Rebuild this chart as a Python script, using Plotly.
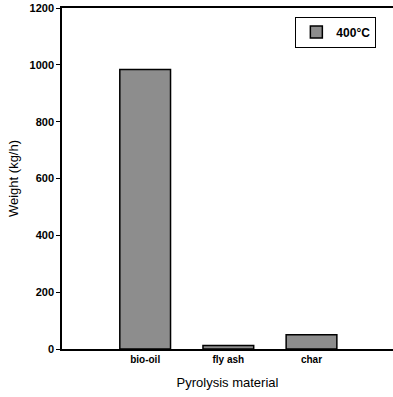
import plotly.graph_objects as go

categories = ["bio-oil", "fly ash", "char"]
weights = [984, 12, 50]
series_name = "400°C"
y_ticks = [0, 200, 400, 600, 800, 1000, 1200]

fig = go.Figure()
fig.add_trace(go.Bar(
    x=categories, y=weights, name=series_name, width=0.61,
    marker=dict(
        color="#8c8c8c",
        line=dict(color="black", width=1.5),
        pattern=dict(shape=".", size=2, solidity=0.5, fgcolor="#505050",
                     bgcolor="#bdbdbd", fillmode="replace"),
    ),
    showlegend=True,
))

fig.update_layout(
    width=393, height=397,
    margin=dict(l=62, r=0, t=8, b=48),
    paper_bgcolor="white", plot_bgcolor="white",
    font=dict(family="Liberation Sans, Arial, sans-serif", color="black"),
    showlegend=True,
    legend=dict(
        x=0.705, y=0.975, xanchor="left", yanchor="top",
        bordercolor="black", borderwidth=1, bgcolor="white",
        font=dict(size=12, family="Liberation Sans, Arial", weight="bold"),
        itemwidth=30, tracegroupgap=0,
    ),
    bargap=0.2,
)
fig.update_xaxes(
    type="category", range=[-1.0, 2.98],
    showline=True, linecolor="black", linewidth=1.5, mirror=True,
    ticks="", showgrid=False,
    tickfont=dict(size=10, weight="bold"),
    title=dict(text="Pyrolysis material", font=dict(size=13), standoff=14),
)
fig.update_yaxes(
    range=[0, 1200], tickvals=y_ticks,
    showline=True, linecolor="black", linewidth=1.5, mirror=False,
    ticks="outside", ticklen=4, tickwidth=1.2, tickcolor="black",
    showgrid=False, zeroline=False,
    tickfont=dict(size=11, weight="bold"),
    title=dict(text="Weight (kg/h)", font=dict(size=13), standoff=8),
)

fig.write_html("out.html")
